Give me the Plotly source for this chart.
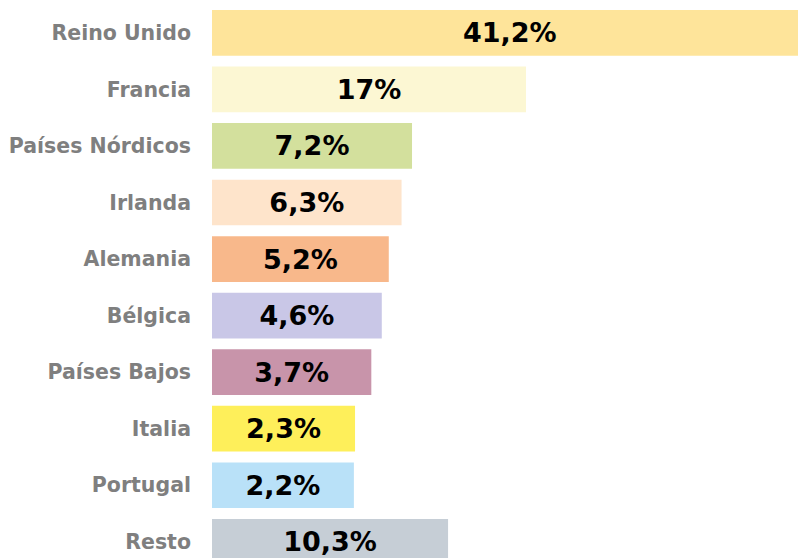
import plotly.graph_objects as go

# ==========================================================
# Data
# ==========================================================

countries = [
    "Reino Unido", "Francia", "Países Nórdicos", "Irlanda", "Alemania",
    "Bélgica", "Países Bajos", "Italia", "Portugal", "Resto",
]

shares = [41.2, 17, 7.2, 6.3, 5.2, 4.6, 3.7, 2.3, 2.2, 10.3]

colors = [
    "#FEE49A", "#FCF7D3", "#D3E09D", "#FEE4CB", "#F8B88B",
    "#C9C7E7", "#C894AA", "#FEEF5A", "#B9E1F8", "#C6CED6",
]

# bars in the original start from a stub of ~10 units
OFFSET = 10

labels = [f"{v:g}".replace(".", ",") + "%" for v in shares]


# ==========================================================
# Chart
# ==========================================================

fig = go.Figure(
    go.Bar(
        y=countries,
        x=[v + OFFSET for v in shares],
        base=-OFFSET,
        orientation="h",
        marker=dict(color=colors, line=dict(width=0)),
        text=labels,
        textposition="inside",
        insidetextanchor="middle",
        textangle=0,
        constraintext="none",
        insidetextfont=dict(family="DejaVu Sans", size=27, color="black", weight="bold"),
        hoverinfo="skip",
    )
)

fig.update_layout(
    width=798,
    height=558,
    margin=dict(l=212, r=0, t=0, b=0),
    paper_bgcolor="white",
    plot_bgcolor="white",
    bargap=0.192,
    showlegend=False,
    xaxis=dict(
        range=[-OFFSET, 40.39],
        visible=False,
    ),
    yaxis=dict(
        range=[9.287, -0.581],
        showgrid=False,
        zeroline=False,
        showline=False,
        ticks="",
        ticklabelstandoff=20,
        tickfont=dict(family="DejaVu Sans", size=20.5, color="#7F7F7F", weight="bold"),
    ),
)

fig.write_html(
    "out.html",
    config={"displayModeBar": False},
    post_script="document.body.style.margin='0px';document.body.style.overflow='hidden';",
)
